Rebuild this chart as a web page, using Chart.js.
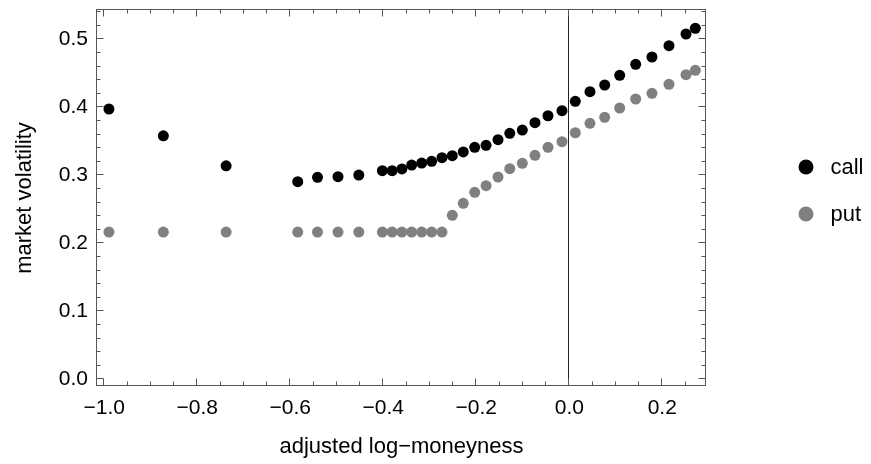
<!DOCTYPE html>
<html>
<head>
<meta charset="utf-8">
<title>market volatility vs adjusted log-moneyness</title>
<script src="https://cdn.jsdelivr.net/npm/chart.js@4.4.0/dist/chart.umd.min.js"></script>
<style>
  html, body { margin: 0; padding: 0; background: #fff; }
</style>
</head>
<body>
<canvas id="volChart" width="871" height="464"></canvas>
<script>
// values
const moneyness = [-0.990, -0.873, -0.738, -0.584, -0.5415, -0.4974, -0.4527, -0.402, -0.381, -0.360, -0.339,
    -0.3174, -0.296, -0.2738, -0.2516, -0.228, -0.2034, -0.179, -0.1533, -0.128, -0.101, -0.0738,
    -0.0458, -0.0157, 0.0129, 0.0445, 0.0761, 0.1084, 0.1428, 0.1778, 0.2144, 0.251, 0.271];
const callVol = [0.3975, 0.358, 0.314, 0.2906, 0.297, 0.298, 0.3004, 0.3068, 0.3068, 0.3093, 0.3151,
    0.318, 0.3206, 0.3259, 0.3288, 0.3343, 0.3412, 0.3441, 0.3524, 0.3618, 0.3666, 0.3774,
    0.3876, 0.395, 0.4088, 0.4229, 0.4328, 0.447, 0.4632, 0.474, 0.4906, 0.5078, 0.5162];
const putVol = [0.2166, 0.2166, 0.2166, 0.2166, 0.2166, 0.2166, 0.2166, 0.2166, 0.2166, 0.2166, 0.2166,
    0.2166, 0.2166, 0.2166, 0.2412, 0.2588, 0.275, 0.2847, 0.2975, 0.3097, 0.3176, 0.3294,
    0.3412, 0.3494, 0.3626, 0.3765, 0.3853, 0.399, 0.4122, 0.4206, 0.4338, 0.4479, 0.4544];
const xTicks = [-1.0, -0.8, -0.6, -0.4, -0.2, 0.0, 0.2];
const yTicks = [0.0, 0.1, 0.2, 0.3, 0.4, 0.5];
const seriesNames = ['call', 'put'];
const seriesColors = ['#000000', '#808080'];

const FONT = "'Liberation Sans', Arial, Helvetica, sans-serif";

function fmt(v) {
    return v.toFixed(1).replace('-', '\u2212');
}

// Mathematica-like frame: inward ticks on all four sides + line at x = 0
const frameTicks = {
    id: 'frameTicks',
    beforeDatasetsDraw(chart) {
        const { ctx, chartArea: a, scales: { x, y } } = chart;
        ctx.save();
        ctx.lineWidth = 1;

        const x0 = Math.round(x.getPixelForValue(0)) - 0.5;
        ctx.strokeStyle = '#222';
        ctx.beginPath();
        ctx.moveTo(x0, a.top);
        ctx.lineTo(x0, a.bottom);
        ctx.stroke();

        ctx.strokeStyle = '#555';
        const L = a.left - 0.5, R = a.right - 0.5, T = a.top - 0.5, B = a.bottom - 0.5;
        ctx.strokeRect(L, T, R - L, B - T);

        ctx.beginPath();
        // x ticks every 0.05, major every 0.2
        for (let k = -20; k <= 5; k++) {
            const px = Math.round(x.getPixelForValue(k * 0.05)) - 0.5;
            if (px < L || px > R) continue;
            const len = (k % 4 === 0) ? 7 : 4;
            ctx.moveTo(px, B); ctx.lineTo(px, B - len);
            ctx.moveTo(px, T); ctx.lineTo(px, T + len);
        }
        // y ticks every 0.02, major every 0.1
        for (let k = 0; k <= 27; k++) {
            const py = Math.round(y.getPixelForValue(k * 0.02)) - 0.5;
            if (py < T || py > B) continue;
            const len = (k % 5 === 0) ? 7 : 4;
            ctx.moveTo(L, py); ctx.lineTo(L + len, py);
            ctx.moveTo(R, py); ctx.lineTo(R - len, py);
        }
        ctx.stroke();
        ctx.restore();
    }
};

// legend to the right of the frame
const sideLegend = {
    id: 'sideLegend',
    afterDraw(chart, args, opts) {
        const { ctx } = chart;
        ctx.save();
        ctx.font = opts.fontSize + 'px ' + FONT;
        ctx.textBaseline = 'middle';
        ctx.textAlign = 'left';
        chart.data.datasets.forEach((ds, i) => {
            const cy = opts.y + i * opts.gap;
            ctx.fillStyle = ds.backgroundColor;
            ctx.beginPath();
            ctx.arc(opts.x, cy, opts.r, 0, Math.PI * 2);
            ctx.fill();
            ctx.fillStyle = '#000';
            ctx.fillText(ds.label, opts.x + opts.textGap, cy + 1);
        });
        ctx.restore();
    }
};

const ctx = document.getElementById('volChart').getContext('2d');
new Chart(ctx, {
    type: 'scatter',
    data: {
        datasets: [
            {
                label: seriesNames[0],
                data: moneyness.map((m, i) => ({ x: m, y: callVol[i] })),
                backgroundColor: seriesColors[0],
                borderWidth: 0,
                pointRadius: 5.5,
                pointHoverRadius: 5.5
            },
            {
                label: seriesNames[1],
                data: moneyness.map((m, i) => ({ x: m, y: putVol[i] })),
                backgroundColor: seriesColors[1],
                borderWidth: 0,
                pointRadius: 5.5,
                pointHoverRadius: 5.5
            }
        ]
    },
    options: {
        responsive: false,
        animation: false,
        layout: { padding: { top: 10, right: 165, left: 0, bottom: 0 } },
        plugins: {
            legend: { display: false },
            tooltip: { enabled: false },
            sideLegend: { x: 806, y: 167, gap: 47, r: 7.5, textGap: 24.5, fontSize: 22 }
        },
        scales: {
            x: {
                type: 'linear',
                min: -1.0157,
                max: 0.294,
                border: { display: false },
                grid: { display: false, drawTicks: false },
                afterBuildTicks: s => { s.ticks = xTicks.map(v => ({ value: v })); },
                afterFit: s => { s.height = 78; s.paddingLeft = 0; s.paddingRight = 0; },
                ticks: {
                    color: '#000',
                    padding: 10,
                    maxRotation: 0,
                    autoSkip: false,
                    font: { family: FONT, size: 21 },
                    callback: v => fmt(v)
                },
                title: {
                    display: true,
                    text: 'adjusted log\u2212moneyness',
                    color: '#000',
                    font: { family: FONT, size: 22 },
                    padding: { top: 0, bottom: 4 }
                }
            },
            y: {
                type: 'linear',
                min: -0.00985,
                max: 0.5431,
                border: { display: false },
                grid: { display: false, drawTicks: false },
                afterBuildTicks: s => { s.ticks = yTicks.map(v => ({ value: v })); },
                afterFit: s => { s.width = 97; s.paddingTop = 0; s.paddingBottom = 0; },
                ticks: {
                    color: '#000',
                    padding: 9,
                    autoSkip: false,
                    font: { family: FONT, size: 21 },
                    callback: v => fmt(v)
                },
                title: {
                    display: true,
                    text: 'market volatility',
                    color: '#000',
                    font: { family: FONT, size: 22 },
                    padding: { top: 12, bottom: 0 }
                }
            }
        }
    },
    plugins: [frameTicks, sideLegend]
});
</script>
</body>
</html>
